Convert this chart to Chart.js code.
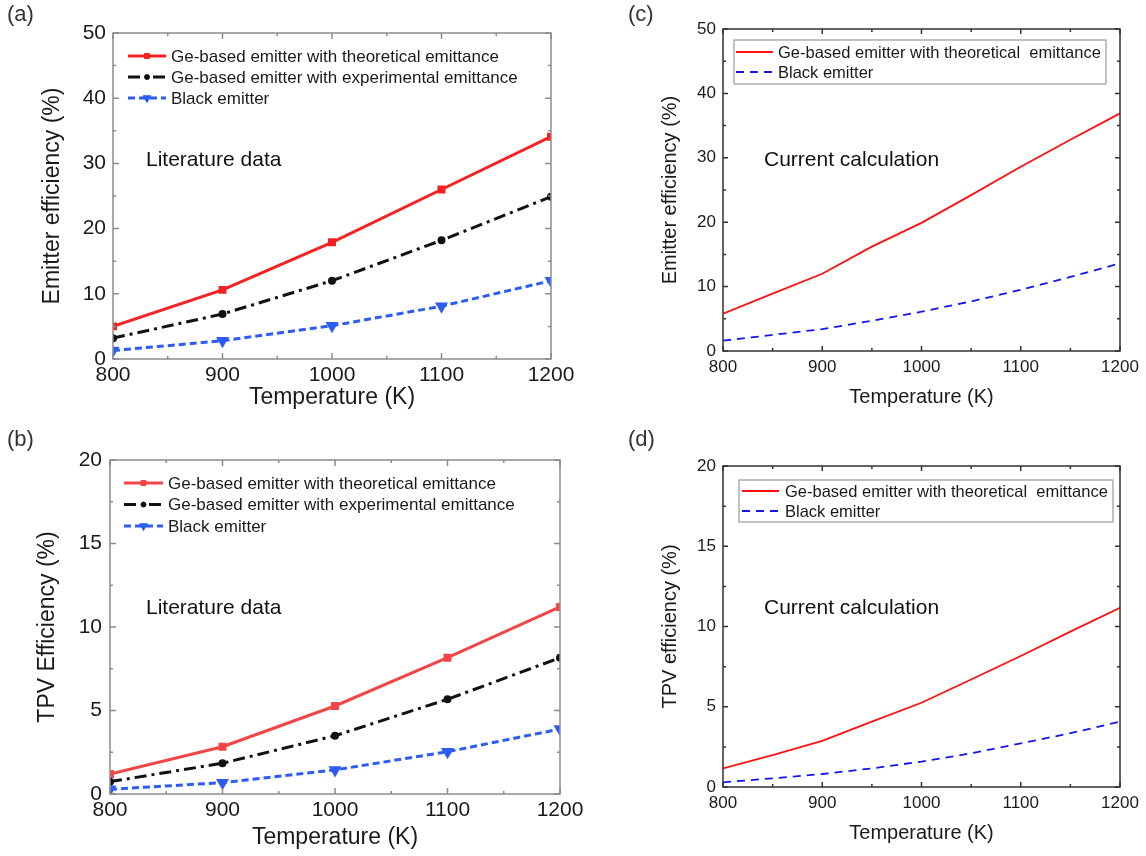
<!DOCTYPE html>
<html>
<head>
<meta charset="utf-8">
<script src="https://cdn.jsdelivr.net/npm/chart.js@4.4.1/dist/chart.umd.min.js"></script>
<style>
  body { margin: 0; background: #fff; width: 1146px; height: 856px; position: relative; overflow: hidden;
         font-family: "Liberation Sans", Arial, sans-serif; }
  canvas { position: absolute; }
  .tag { position: absolute; line-height: 1; white-space: nowrap; color: #333; font-size: 22px; }
  .note { position: absolute; line-height: 1; white-space: nowrap; color: #111; font-size: 21px; }
</style>
</head>
<body>
<canvas id="pa" width="590" height="420" style="left:0;top:0"></canvas>
<canvas id="pb" width="600" height="436" style="left:0;top:420px"></canvas>
<canvas id="pc" width="573" height="420" style="left:573px;top:0"></canvas>
<canvas id="pd" width="573" height="436" style="left:573px;top:420px"></canvas>

<div class="tag" style="left:7px;top:3px">(a)</div>
<div class="tag" style="left:7px;top:428px">(b)</div>
<div class="tag" style="left:628px;top:3px">(c)</div>
<div class="tag" style="left:628px;top:428px">(d)</div>
<div class="note" style="left:146px;top:148px">Literature data</div>
<div class="note" style="left:146px;top:596px">Literature data</div>
<div class="note" style="left:764px;top:148px">Current calculation</div>
<div class="note" style="left:764px;top:596px">Current calculation</div>

<script>
// literature data, (a) and (b)
const litTemps = [800, 900, 1000, 1100, 1200];
const litEmitTheo = [5.0, 10.6, 17.9, 26.0, 34.1];
const litEmitExp = [3.2, 6.9, 12.0, 18.2, 24.9];
const litEmitBlack = [1.3, 2.8, 5.1, 8.1, 12.0];
const litTpvTheo = [1.2, 2.83, 5.27, 8.16, 11.2];
const litTpvExp = [0.74, 1.84, 3.49, 5.67, 8.16];
const litTpvBlack = [0.28, 0.68, 1.44, 2.53, 3.89];

// current calculation, (c) and (d)
const calcTemps = [800, 850, 900, 950, 1000, 1050, 1100, 1150, 1200];
const calcEmitTheo = [5.8, 8.9, 12.0, 16.2, 19.9, 24.2, 28.6, 32.8, 36.9];
const calcEmitBlack = [1.6, 2.5, 3.4, 4.7, 6.1, 7.7, 9.5, 11.5, 13.6];
const calcTpvTheo = [1.16, 1.99, 2.87, 4.07, 5.25, 6.7, 8.16, 9.68, 11.17];
const calcTpvBlack = [0.29, 0.54, 0.81, 1.16, 1.58, 2.1, 2.72, 3.35, 4.07];

// ticks
const tempTicks = [800, 900, 1000, 1100, 1200];
const emitTicks = [0, 10, 20, 30, 40, 50];
const tpvTicks = [0, 5, 10, 15, 20];

const labelTheo = 'Ge-based emitter with theoretical emittance';
const labelExp = 'Ge-based emitter with experimental emittance';
const labelBlack = 'Black emitter';
const labelTheoCalc = 'Ge-based emitter with theoretical  emittance';

const FONT = '"Liberation Sans", Arial, sans-serif';

function pts(xs, ys) {
  return xs.map((x, i) => ({ x: x, y: ys[i] }));
}

// frame with inward major/minor ticks on all four sides, plus in-plot legend
const framePlugin = {
  id: 'frame',
  afterDatasetsDraw(chart, args, o) {
    const { ctx, chartArea: a, scales: { x, y } } = chart;
    ctx.save();
    ctx.strokeStyle = o.color;
    ctx.lineWidth = o.width;
    ctx.strokeRect(a.left, a.top, a.right - a.left, a.bottom - a.top);
    ctx.beginPath();
    const xv = x.ticks.map(t => t.value);
    xv.forEach((v, i) => {
      const p = x.getPixelForValue(v);
      ctx.moveTo(p, a.bottom); ctx.lineTo(p, a.bottom - o.major);
      ctx.moveTo(p, a.top); ctx.lineTo(p, a.top + o.major);
      if (i < xv.length - 1) {
        const m = x.getPixelForValue((v + xv[i + 1]) / 2);
        ctx.moveTo(m, a.bottom); ctx.lineTo(m, a.bottom - o.minor);
        ctx.moveTo(m, a.top); ctx.lineTo(m, a.top + o.minor);
      }
    });
    const yv = y.ticks.map(t => t.value);
    yv.forEach((v, i) => {
      const p = y.getPixelForValue(v);
      ctx.moveTo(a.left, p); ctx.lineTo(a.left + o.major, p);
      ctx.moveTo(a.right, p); ctx.lineTo(a.right - o.major, p);
      if (i < yv.length - 1) {
        const m = y.getPixelForValue((v + yv[i + 1]) / 2);
        ctx.moveTo(a.left, m); ctx.lineTo(a.left + o.minor, m);
        ctx.moveTo(a.right, m); ctx.lineTo(a.right - o.minor, m);
      }
    });
    ctx.stroke();

    // legend
    const L = o.legend;
    if (L.box) {
      ctx.strokeStyle = '#9a9a9a';
      ctx.lineWidth = 1.2;
      ctx.strokeRect(L.box[0], L.box[1], L.box[2], L.box[3]);
    }
    ctx.font = L.size + 'px ' + FONT;
    ctx.textBaseline = 'middle';
    chart.data.datasets.forEach((ds, i) => {
      const yy = L.y + i * L.gap;
      ctx.strokeStyle = ds.borderColor;
      ctx.lineWidth = ds.borderWidth;
      ctx.setLineDash(ds.borderDash || []);
      ctx.beginPath();
      ctx.moveTo(L.x0, yy); ctx.lineTo(L.x1, yy);
      ctx.stroke();
      ctx.setLineDash([]);
      if (ds.pointRadius > 0) {
        ctx.fillStyle = ds.borderColor;
        ctx.lineWidth = 1;
        Chart.helpers.drawPoint(ctx, { pointStyle: ds.pointStyle, radius: ds.pointRadius,
          rotation: ds.pointRotation || 0, borderWidth: 1 }, (L.x0 + L.x1) / 2, yy);
      }
      ctx.fillStyle = '#1a1a1a';
      ctx.fillText(ds.label, L.tx, yy + 1);
    });
    ctx.restore();
  }
};

function makeChart(id, p) {
  const c = document.getElementById(id);
  const W = c.width, H = c.height;
  new Chart(c, {
    type: 'line',
    data: { datasets: p.datasets },
    plugins: [framePlugin],
    options: {
      responsive: false,
      animation: false,
      devicePixelRatio: 1,
      layout: { padding: { left: 0, top: p.area.top, right: W - p.area.right, bottom: 0 } },
      elements: { line: { tension: 0 } },
      plugins: {
        legend: { display: false },
        tooltip: { enabled: false },
        frame: { color: p.frameColor, width: 1.5, major: p.major, minor: p.minor, legend: p.legend }
      },
      scales: {
        x: {
          type: 'linear', min: 800, max: 1200,
          afterBuildTicks: s => { s.ticks = tempTicks.map(v => ({ value: v })); },
          afterFit: s => { s.height = H - p.area.bottom; s.paddingLeft = 0; s.paddingRight = 0; },
          grid: { display: false, drawTicks: false },
          border: { display: false },
          ticks: { color: '#1a1a1a', padding: p.xPad, maxRotation: 0, callback: v => String(v),
                   font: { family: FONT, size: p.tickSize } },
          title: { display: true, text: 'Temperature (K)', color: '#1a1a1a',
                   font: { family: FONT, size: p.titleSize }, padding: { top: 0, bottom: p.xTitlePad } }
        },
        y: {
          type: 'linear', min: p.yTicks[0], max: p.yTicks[p.yTicks.length - 1],
          afterBuildTicks: s => { s.ticks = p.yTicks.map(v => ({ value: v })); },
          afterFit: s => { s.width = p.area.left; s.paddingTop = 0; s.paddingBottom = 0; },
          grid: { display: false, drawTicks: false },
          border: { display: false },
          ticks: { color: '#1a1a1a', padding: p.yPad, callback: v => String(v),
                   font: { family: FONT, size: p.tickSize } },
          title: { display: true, text: p.yTitle, color: '#1a1a1a',
                   font: { family: FONT, size: p.titleSize }, padding: { top: p.yTitlePad, bottom: 0 } }
        }
      }
    }
  });
}

function litSets(theo, exp, black, red) {
  return [
    { label: labelTheo, data: pts(litTemps, theo), borderColor: red, borderWidth: 3,
      pointStyle: 'rect', pointRadius: 3.5, pointBackgroundColor: red, pointBorderColor: red },
    { label: labelExp, data: pts(litTemps, exp), borderColor: '#111', borderWidth: 3, borderDash: [12, 5, 3, 5],
      pointStyle: 'circle', pointRadius: 2.5, pointBackgroundColor: '#111', pointBorderColor: '#111' },
    { label: labelBlack, data: pts(litTemps, black), borderColor: '#2d5cf5', borderWidth: 3, borderDash: [7, 4],
      pointStyle: 'triangle', pointRotation: 180, pointRadius: 4.5, pointBackgroundColor: '#2d5cf5', pointBorderColor: '#2d5cf5' }
  ];
}

function calcSets(theo, black) {
  return [
    { label: labelTheoCalc, data: pts(calcTemps, theo), borderColor: '#ff1010', borderWidth: 1.8, pointRadius: 0 },
    { label: labelBlack, data: pts(calcTemps, black), borderColor: '#1515f0', borderWidth: 1.8, borderDash: [8, 6], pointRadius: 0 }
  ];
}

makeChart('pa', {
  datasets: litSets(litEmitTheo, litEmitExp, litEmitBlack, '#f52222'),
  area: { left: 113, right: 551, top: 33, bottom: 359 },
  yTicks: emitTicks, yTitle: 'Emitter efficiency (%)',
  tickSize: 21, titleSize: 23, xPad: 4, yPad: 7, xTitlePad: 9, yTitlePad: 39,
  frameColor: '#8c8c8c', major: 6, minor: 3,
  legend: { x0: 128, x1: 166, tx: 171, y: 56, gap: 21, size: 17 }
});

makeChart('pb', {
  datasets: litSets(litTpvTheo, litTpvExp, litTpvBlack, '#f24646'),
  area: { left: 110, right: 560, top: 40, bottom: 374 },
  yTicks: tpvTicks, yTitle: 'TPV Efficiency (%)',
  tickSize: 21, titleSize: 23, xPad: 4, yPad: 8, xTitlePad: 5, yTitlePad: 34,
  frameColor: '#8c8c8c', major: 6, minor: 3,
  legend: { x0: 124, x1: 163, tx: 168, y: 63, gap: 21.5, size: 17 }
});

makeChart('pc', {
  datasets: calcSets(calcEmitTheo, calcEmitBlack),
  area: { left: 150, right: 547, top: 29, bottom: 351 },
  yTicks: emitTicks, yTitle: 'Emitter efficiency (%)',
  tickSize: 17, titleSize: 20, xPad: 6, yPad: 7, xTitlePad: 11, yTitlePad: 85,
  frameColor: '#333', major: 5, minor: 3,
  legend: { box: [161, 40, 372, 44], x0: 163, x1: 200, tx: 205, y: 52, gap: 20, size: 16.5 }
});

makeChart('pd', {
  datasets: calcSets(calcTpvTheo, calcTpvBlack),
  area: { left: 150, right: 547, top: 46, bottom: 367 },
  yTicks: tpvTicks, yTitle: 'TPV efficiency (%)',
  tickSize: 17, titleSize: 20, xPad: 6, yPad: 7, xTitlePad: 11, yTitlePad: 85,
  frameColor: '#333', major: 5, minor: 3,
  legend: { box: [166, 60, 374, 42], x0: 169, x1: 206, tx: 212, y: 71, gap: 20, size: 16.5 }
});
</script>
</body>
</html>
